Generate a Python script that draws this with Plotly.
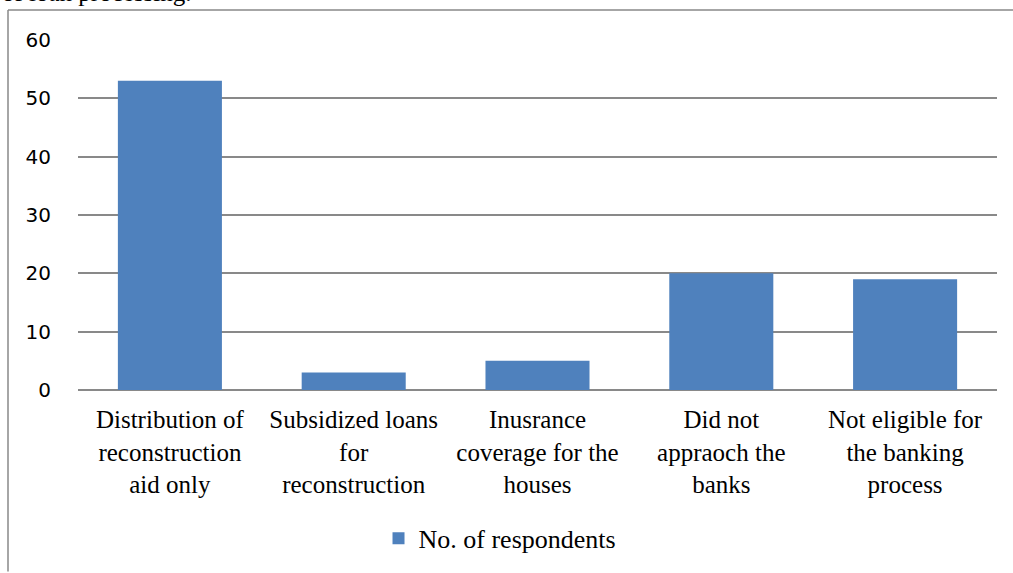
import plotly.graph_objects as go

categories = [
    "Distribution of<br>reconstruction<br>aid only",
    "Subsidized loans<br>for<br>reconstruction",
    "Inusrance<br>coverage for the<br>houses",
    "Did not<br>appraoch the<br>banks",
    "Not eligible for<br>the banking<br>process",
]
values = [53, 3, 5, 20, 19]
series_name = "No. of respondents"
y_ticks = [0, 10, 20, 30, 40, 50, 60]

BAR = "#4F81BD"
GRID = "#898989"

fig = go.Figure()
fig.add_trace(go.Bar(x=categories, y=values, name=series_name, marker_color=BAR,
                     marker_line_width=0, showlegend=True))

PW, PH = 919, 351
fig.update_layout(
    width=1013, height=573,
    margin=dict(l=78, r=16, t=40, b=182),
    paper_bgcolor="white", plot_bgcolor="white",
    bargap=0.434,
    showlegend=True,
    legend=dict(orientation="h", x=0.327, xanchor="left", y=-0.42, yanchor="middle",
                font=dict(family="Liberation Serif", size=26, color="black"),
                itemwidth=30, bgcolor="rgba(0,0,0,0)"),
    xaxis=dict(showgrid=False, showline=False, ticks="", zeroline=False,
               ticklabelstandoff=12,
               tickfont=dict(family="Liberation Serif", size=25, color="black")),
    yaxis=dict(range=[0, 60], tickvals=y_ticks, showgrid=True, gridcolor=GRID, gridwidth=1.5,
               zeroline=True, zerolinecolor=GRID, zerolinewidth=1.5, showline=False, ticks="",
               ticklabelstandoff=26,
               tickfont=dict(family="DejaVu Sans", size=20, color="black")),
)
# outer frame lines in pixel offsets relative to the plot area
fig.add_shape(type="line", xref="paper", yref="paper", x0=-70/PW, x1=-70/PW,
              y0=-182/PH, y1=(PH+30)/PH, line=dict(color=GRID, width=1.5))
fig.add_shape(type="line", xref="paper", yref="paper", x0=-70/PW, x1=(PW+16)/PW,
              y0=(PH+30)/PH, y1=(PH+30)/PH, line=dict(color=GRID, width=1.5))
fig.add_annotation(text="of loan processing.", xref="paper", yref="paper",
                   x=-78/PW, y=(PH+32)/PH, xanchor="left", yanchor="bottom",
                   showarrow=False, font=dict(family="Liberation Serif", size=25, color="black"))

fig.write_html("out.html", config={"displayModeBar": False},
               post_script="document.body.style.margin='0';document.body.style.overflow='hidden';")
